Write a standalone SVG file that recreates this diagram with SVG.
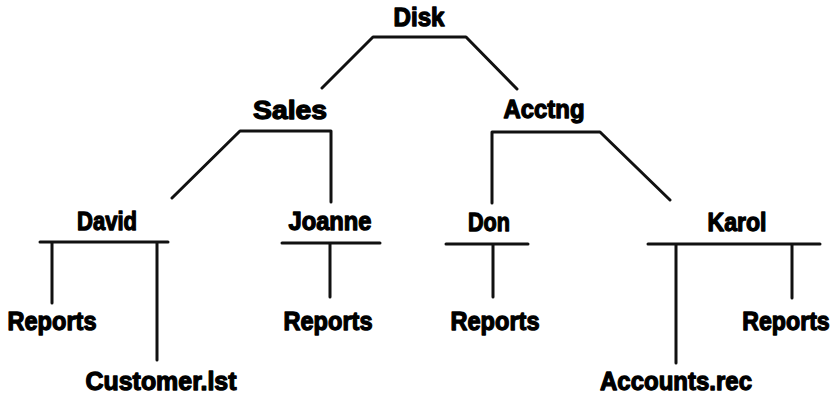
<svg xmlns="http://www.w3.org/2000/svg" width="838" height="401" viewBox="0 0 838 401">
<style>
text{font-family:"Liberation Sans",Arial,sans-serif;font-weight:bold;font-size:26px;fill:#000;stroke:#000;stroke-width:1.3;stroke-linejoin:round;text-anchor:middle}
.c{fill:none;stroke:#111;stroke-width:3;stroke-linecap:round;stroke-linejoin:round}
</style>
<rect width="838" height="401" fill="#fff"/>
<g id="connectors">
<path class="c" d="M322,88 L373,37 L466,37 L517,89"/>
<path class="c" d="M172,198 L240,131 L331,131 L331,202"/>
<path class="c" d="M492,203 L492,132 L600,132 L670,200"/>
<path class="c" d="M40,242 L168,242 M52,242 L52,303 M157,242 L157,360"/>
<path class="c" d="M282,243 L380,243 M330,243 L330,297"/>
<path class="c" d="M446,244 L528,244 M493,244 L493,297"/>
<path class="c" d="M648,244 L820,244 M676,244 L676,363 M792,244 L792,298"/>
</g>
<g id="disk"><text x="419" y="26" textLength="51" lengthAdjust="spacingAndGlyphs">Disk</text></g>
<g id="sales"><text x="290" y="119" textLength="74" lengthAdjust="spacingAndGlyphs">Sales</text></g>
<g id="acctng"><text x="544" y="118" textLength="81" lengthAdjust="spacingAndGlyphs">Acctng</text></g>
<g id="david"><text x="107" y="230" textLength="60" lengthAdjust="spacingAndGlyphs">David</text></g>
<g id="joanne"><text x="330" y="230" textLength="83" lengthAdjust="spacingAndGlyphs">Joanne</text></g>
<g id="don"><text x="489" y="231" textLength="42" lengthAdjust="spacingAndGlyphs">Don</text></g>
<g id="karol"><text x="737" y="231" textLength="59" lengthAdjust="spacingAndGlyphs">Karol</text></g>
<g id="reports1"><text x="52" y="330" textLength="89" lengthAdjust="spacingAndGlyphs">Reports</text></g>
<g id="reports2"><text x="328" y="330" textLength="89" lengthAdjust="spacingAndGlyphs">Reports</text></g>
<g id="reports3"><text x="495" y="330" textLength="89" lengthAdjust="spacingAndGlyphs">Reports</text></g>
<g id="reports4"><text transform="translate(786,330) scale(0.89,1)" x="0" y="0">Reports</text></g>
<g id="customer"><text x="161" y="390" textLength="151" lengthAdjust="spacingAndGlyphs">Customer.lst</text></g>
<g id="accounts"><text x="676" y="390" textLength="152" lengthAdjust="spacingAndGlyphs">Accounts.rec</text></g>
</svg>
